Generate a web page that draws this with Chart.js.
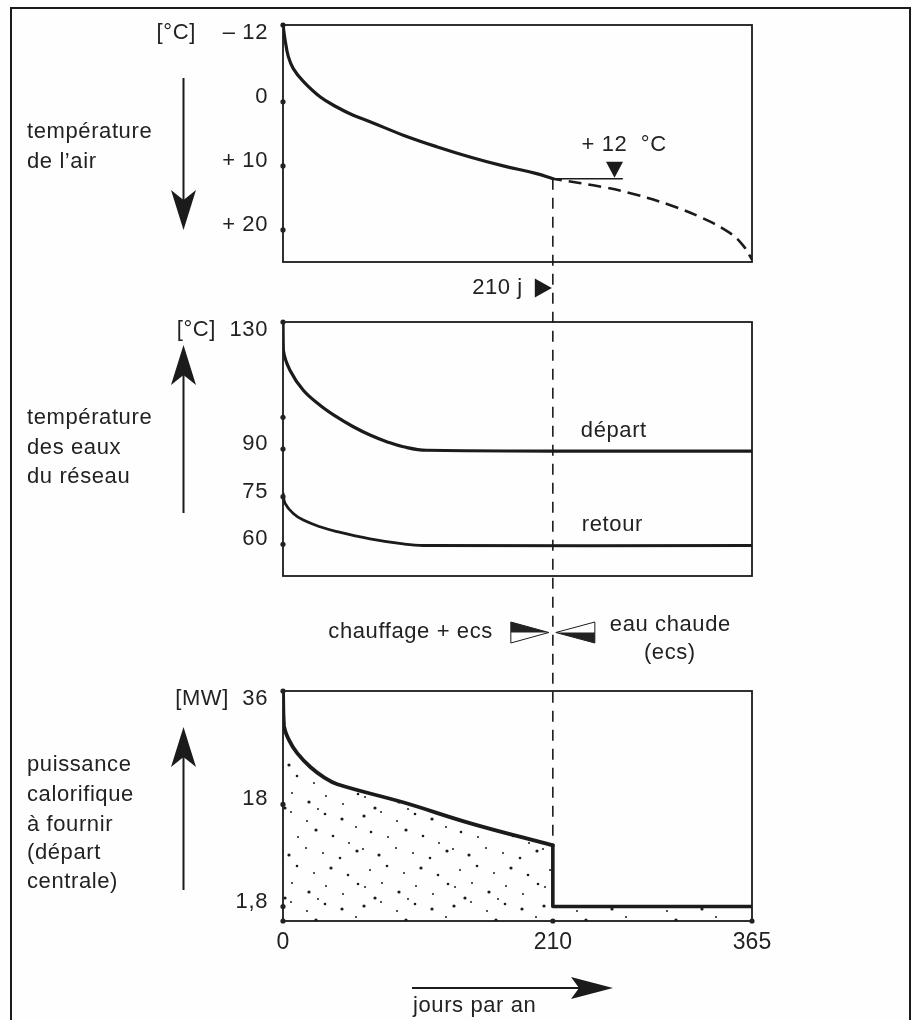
<!DOCTYPE html>
<html>
<head>
<meta charset="utf-8">
<script src="https://cdn.jsdelivr.net/npm/chart.js@4.4.1/dist/chart.umd.min.js"></script>
<style>
  html, body { margin: 0; padding: 0; background: #fefefe; }
  #wrap { position: relative; width: 912px; height: 1020px; }
  canvas { display: block; }
</style>
</head>
<body>
<div id="wrap"><canvas id="c" width="912" height="1020"></canvas></div>
<script>
// ---------------- DATA ----------------
const X_TICKS = [0, 210, 365];
const DIVIDE_DAY = 210;

// air temperature (°C), heating season (solid) and summer (dashed)
const AIR_DAYS = [0, 1.6, 4.1, 8, 15.8, 28.8, 41.8, 54.7, 67.7, 93.6, 119.6, 145.5, 171.4, 197.4, 210];
const AIR_TEMP = [-12, -9.7, -7.1, -5.2, -3.2, -0.8, 0.8, 2.1, 3.1, 5.2, 7.0, 8.6, 10.0, 11.2, 12];
const AIR_SUMMER_DAYS = [210, 249, 275, 301, 327, 348, 358, 365];
const AIR_SUMMER_TEMP = [12, 13.3, 14.5, 16.1, 18.2, 20.5, 22.4, 24.6];
const REF_DAYS = [210, 264];
const REF_TEMP = [12, 12];
const REF_MARK_DAY = 258;
const REF_LABEL = '+ 12  °C';

const AIR_TICKS = [-12, 0, 10, 20];
const AIR_TICK_LABELS = ['[°C]    – 12', '0', '+ 10', '+ 20'];

// network water temperatures (°C)
const DEP_DAYS = [0, 0.3, 5.4, 15.8, 28.8, 41.8, 54.7, 67.7, 80.7, 93.6, 111.8, 365];
const DEP_TEMP = [130, 121, 114.8, 108.5, 103.8, 100.1, 97, 94.4, 92.3, 90.7, 89.6, 89.3];
const RET_DAYS = [0, 1.6, 8, 15.8, 28.8, 41.8, 67.7, 93.6, 109.2, 365];
const RET_TEMP = [76, 72.9, 69.7, 67.6, 65.5, 64, 61.7, 60.1, 59.6, 59.6];
const WATER_TICKS = [130, 100, 90, 75, 60];
const WATER_TICK_LABELS = ['[°C]  130', '', '90', '75', '60'];

// heat power to deliver (MW)
const HEAT_DAYS = [0, 0.8, 4.7, 11.2, 21.5, 31.9, 42.3, 94, 146, 210];
const HEAT_MW = [36, 30.5, 28.2, 26.1, 23.9, 22.3, 21.2, 18.3, 15.0, 11.5];
const ECS_DAYS = [210, 210, 365];
const ECS_MW = [11.5, 1.8, 1.8];
const POWER_TICKS = [36, 18, 1.8];
const POWER_TICK_LABELS = ['[MW]  36', '18', '1,8'];

// ---------------- LAYOUT / STYLE ----------------
const W = 912, H = 1020;
const PLOT = { left: 283, right: 752, top: 25, bottom: 921 };
const XAXIS_H = 40;
const INK = '#1b1b1b';
const TEXT = '#222222';
const FONT = "'Liberation Sans', Arial, Helvetica, sans-serif";
// each panel: pixel band and value at top / bottom of that band
const BANDS = {
  yAir:   { pxTop: 25,  pxBot: 262, vTop: -12, vBot: 25 },
  yWater: { pxTop: 322, pxBot: 576, vTop: 130, vBot: 50 },
  yPower: { pxTop: 691, pxBot: 921, vTop: 36,  vBot: -0.5 }
};

function band(b) {
  const k = (b.pxBot - b.pxTop) / Math.abs(b.vTop - b.vBot);
  if (b.vTop > b.vBot) {
    return { min: b.vBot - (PLOT.bottom - b.pxBot) / k, max: b.vTop + (b.pxTop - PLOT.top) / k, reverse: false };
  }
  return { min: b.vTop - (b.pxTop - PLOT.top) / k, max: b.vBot + (PLOT.bottom - b.pxBot) / k, reverse: true };
}
const pts = (xs, ys) => xs.map((x, i) => ({ x, y: ys[i] }));

function makeStipple() {
  const c = document.createElement('canvas');
  c.width = 90; c.height = 90;
  const g = c.getContext('2d');
  g.fillStyle = INK;
  const dots = [[4,6],[21,2],[37,11],[55,4],[72,9],[86,17],[11,22],[28,27],[46,20],[63,26],[79,33],
    [3,39],[19,45],[36,38],[53,43],[70,48],[87,41],[10,60],[27,56],[44,63],[61,58],[78,65],
    [5,77],[22,73],[39,82],[56,76],[73,84],[88,74],[15,88],[48,89]];
  dots.forEach(([a, b], i) => { g.beginPath(); g.arc(a, b, i % 4 === 0 ? 1.6 : (i % 3 === 0 ? 1.3 : 1.0), 0, Math.PI * 2); g.fill(); });
  return c.getContext('2d').createPattern(c, 'repeat');
}
const STIPPLE = makeStipple();

function txt(ctx, s, x, y, align, size) {
  ctx.font = size + 'px ' + FONT;
  ctx.textAlign = align || 'left';
  ctx.textBaseline = 'middle';
  ctx.fillStyle = TEXT;
  try { ctx.letterSpacing = '0.6px'; } catch (e) {}
  ctx.fillText(s, x, y);
  try { ctx.letterSpacing = '0px'; } catch (e) {}
}

function arrow(ctx, x1, y1, x2, y2, headLen, halfW, notch) {
  const ang = Math.atan2(y2 - y1, x2 - x1);
  const ux = Math.cos(ang), uy = Math.sin(ang), px = -uy, py = ux;
  const bx = x2 - ux * headLen, by = y2 - uy * headLen;
  const nx = x2 - ux * (headLen - notch), ny = y2 - uy * (headLen - notch);
  ctx.lineWidth = 2;
  ctx.beginPath(); ctx.moveTo(x1, y1); ctx.lineTo(nx, ny); ctx.stroke();
  ctx.beginPath();
  ctx.moveTo(x2, y2);
  ctx.lineTo(bx + px * halfW, by + py * halfW);
  ctx.lineTo(nx, ny);
  ctx.lineTo(bx - px * halfW, by - py * halfW);
  ctx.closePath(); ctx.fill();
}

const overlay = {
  id: 'overlay',
  beforeDatasetsDraw(chart) {
    const ctx = chart.ctx, x = chart.scales.x;
    const yA = chart.scales.yAir, yP = chart.scales.yPower;
    const xd = x.getPixelForValue(DIVIDE_DAY);
    ctx.save();
    ctx.strokeStyle = INK; ctx.lineWidth = 1.6; ctx.setLineDash([11, 8]);
    ctx.beginPath();
    ctx.moveTo(xd, yA.getPixelForValue(AIR_TEMP[AIR_TEMP.length - 1]));
    ctx.lineTo(xd, yP.getPixelForValue(HEAT_MW[HEAT_MW.length - 1]));
    ctx.stroke();
    ctx.restore();
  },
  afterDraw(chart) {
    const ctx = chart.ctx, x = chart.scales.x;
    const x0 = x.getPixelForValue(0), x1 = x.getPixelForValue(365), xd = x.getPixelForValue(DIVIDE_DAY);
    ctx.save();
    ctx.strokeStyle = INK; ctx.fillStyle = INK;

    // outer frame
    ctx.lineWidth = 2;
    ctx.beginPath(); ctx.moveTo(11, H); ctx.lineTo(11, 8); ctx.lineTo(910, 8); ctx.lineTo(910, H); ctx.stroke();

    // panel boxes, tick dots and tick labels
    const panels = [
      ['yAir', AIR_TICKS, AIR_TICK_LABELS],
      ['yWater', WATER_TICKS, WATER_TICK_LABELS],
      ['yPower', POWER_TICKS, POWER_TICK_LABELS]
    ];
    panels.forEach(([id, ticks, labels]) => {
      const s = chart.scales[id], b = BANDS[id];
      const top = s.getPixelForValue(b.vTop), bot = s.getPixelForValue(b.vBot);
      ctx.lineWidth = 1.8;
      ctx.strokeRect(x0, top, x1 - x0, bot - top);
      ticks.forEach((v, i) => {
        const py = s.getPixelForValue(v);
        ctx.beginPath(); ctx.arc(x0, py, 2.6, 0, Math.PI * 2); ctx.fill();
        if (labels[i]) txt(ctx, labels[i], x0 - 15, py + (i === 0 ? 8 : -5), 'right', 22);
      });
    });
    const yP = chart.scales.yPower, yA = chart.scales.yAir, yW = chart.scales.yWater;
    const pBot = yP.getPixelForValue(BANDS.yPower.vBot);
    X_TICKS.forEach(v => { ctx.beginPath(); ctx.arc(x.getPixelForValue(v), pBot, 2.6, 0, Math.PI * 2); ctx.fill(); });

    // left descriptions + arrows
    ctx.fillStyle = INK;
    arrow(ctx, 183.5, 78, 183.5, 230, 40, 12.5, 10);
    arrow(ctx, 183.5, 513, 183.5, 345, 40, 12.5, 10);
    arrow(ctx, 183.5, 890, 183.5, 727, 40, 12.5, 10);
    [['température', 132], ["de l’air", 162]].forEach(([s, y]) => txt(ctx, s, 27, y, 'left', 22));
    [['température', 418], ['des eaux', 448], ['du réseau', 477]].forEach(([s, y]) => txt(ctx, s, 27, y, 'left', 22));
    [['puissance', 765], ['calorifique', 795], ['à fournir', 825], ['(départ', 853], ['centrale)', 882]].forEach(([s, y]) => txt(ctx, s, 27, y, 'left', 22));

    // +12 °C marker
    const xr = x.getPixelForValue(REF_MARK_DAY), yr = yA.getPixelForValue(REF_TEMP[0]);
    ctx.fillStyle = INK;
    ctx.beginPath(); ctx.moveTo(xr, yr - 1); ctx.lineTo(xr - 8.5, yr - 17); ctx.lineTo(xr + 8.5, yr - 17); ctx.closePath(); ctx.fill();
    txt(ctx, REF_LABEL, xr - 33, yr - 34, 'left', 22);

    // 210 j marker
    const y210 = 288;
    ctx.fillStyle = INK;
    ctx.beginPath(); ctx.moveTo(xd - 18, y210 - 9.5); ctx.lineTo(xd - 18, y210 + 9.5); ctx.lineTo(xd - 1, y210); ctx.closePath(); ctx.fill();
    txt(ctx, DIVIDE_DAY + ' j', xd - 30, y210, 'right', 22);

    // curve labels
    txt(ctx, 'départ', xd + 28, yW.getPixelForValue(DEP_TEMP[DEP_TEMP.length - 1]) - 20, 'left', 22);
    txt(ctx, 'retour', xd + 29, yW.getPixelForValue(RET_TEMP[RET_TEMP.length - 1]) - 21, 'left', 22);

    // season symbols
    const cy = 632.5;
    ctx.lineWidth = 1;
    ctx.beginPath(); ctx.moveTo(xd - 42, cy - 10.5); ctx.lineTo(xd - 4, cy); ctx.lineTo(xd - 42, cy + 10.5); ctx.closePath(); ctx.stroke();
    ctx.beginPath(); ctx.moveTo(xd - 42, cy - 10.5); ctx.lineTo(xd - 4, cy); ctx.lineTo(xd - 42, cy); ctx.closePath(); ctx.fill();
    ctx.beginPath(); ctx.moveTo(xd + 42, cy - 10.5); ctx.lineTo(xd + 3, cy); ctx.lineTo(xd + 42, cy + 10.5); ctx.closePath(); ctx.stroke();
    ctx.beginPath(); ctx.moveTo(xd + 42, cy + 10.5); ctx.lineTo(xd + 3, cy); ctx.lineTo(xd + 42, cy); ctx.closePath(); ctx.fill();
    txt(ctx, 'chauffage + ecs', xd - 60, cy - 1, 'right', 22);
    txt(ctx, 'eau chaude', xd + 57, 625, 'left', 22);
    txt(ctx, '(ecs)', xd + 117, 653, 'center', 22);

    // x axis arrow + title
    ctx.fillStyle = INK;
    arrow(ctx, 412, 988, 613, 988, 42, 11, 8);
    txt(ctx, 'jours par an', 413, 1006, 'left', 22);
    ctx.restore();
  }
};

const airB = band(BANDS.yAir), waterB = band(BANDS.yWater), powerB = band(BANDS.yPower);
const SMOOTH = 0.4;

new Chart(document.getElementById('c'), {
  type: 'line',
  data: {
    datasets: [
      { data: pts(AIR_DAYS, AIR_TEMP), yAxisID: 'yAir', borderWidth: 3.2, tension: SMOOTH },
      { data: pts(AIR_SUMMER_DAYS, AIR_SUMMER_TEMP), yAxisID: 'yAir', borderWidth: 2.6, borderDash: [13, 7], borderDashOffset: 4, borderCapStyle: 'butt', tension: SMOOTH },
      { data: pts(REF_DAYS, REF_TEMP), yAxisID: 'yAir', borderWidth: 1.5 },
      { data: pts(DEP_DAYS, DEP_TEMP), yAxisID: 'yWater', borderWidth: 3.2, tension: SMOOTH },
      { data: pts(RET_DAYS, RET_TEMP), yAxisID: 'yWater', borderWidth: 2.8, tension: SMOOTH },
      { data: pts(HEAT_DAYS, HEAT_MW), yAxisID: 'yPower', borderWidth: 3.8, tension: SMOOTH,
        fill: { value: BANDS.yPower.vBot }, backgroundColor: STIPPLE },
      { data: pts(ECS_DAYS, ECS_MW), yAxisID: 'yPower', borderWidth: 3.6,
        fill: { value: BANDS.yPower.vBot }, backgroundColor: STIPPLE }
    ]
  },
  options: {
    responsive: false,
    animation: false,
    devicePixelRatio: 1,
    layout: { padding: { left: PLOT.left, right: W - PLOT.right, top: PLOT.top, bottom: H - PLOT.bottom - XAXIS_H } },
    plugins: { legend: { display: false }, tooltip: { enabled: false } },
    elements: {
      point: { radius: 0, hoverRadius: 0 },
      line: { borderColor: INK, borderJoinStyle: 'round', borderCapStyle: 'round', fill: false }
    },
    scales: {
      x: {
        type: 'linear', min: 0, max: 365,
        grid: { display: false, drawTicks: false }, border: { display: false },
        afterBuildTicks: s => { s.ticks = X_TICKS.map(v => ({ value: v })); },
        afterFit: s => { s.height = XAXIS_H; },
        ticks: { autoSkip: false, maxRotation: 0, padding: 8, color: TEXT, font: { size: 23, family: FONT } }
      },
      yAir:   { type: 'linear', position: 'left', display: false, min: airB.min, max: airB.max, reverse: airB.reverse },
      yWater: { type: 'linear', position: 'left', display: false, min: waterB.min, max: waterB.max, reverse: waterB.reverse },
      yPower: { type: 'linear', position: 'left', display: false, min: powerB.min, max: powerB.max, reverse: powerB.reverse }
    }
  },
  plugins: [overlay]
});
</script>
</body>
</html>
